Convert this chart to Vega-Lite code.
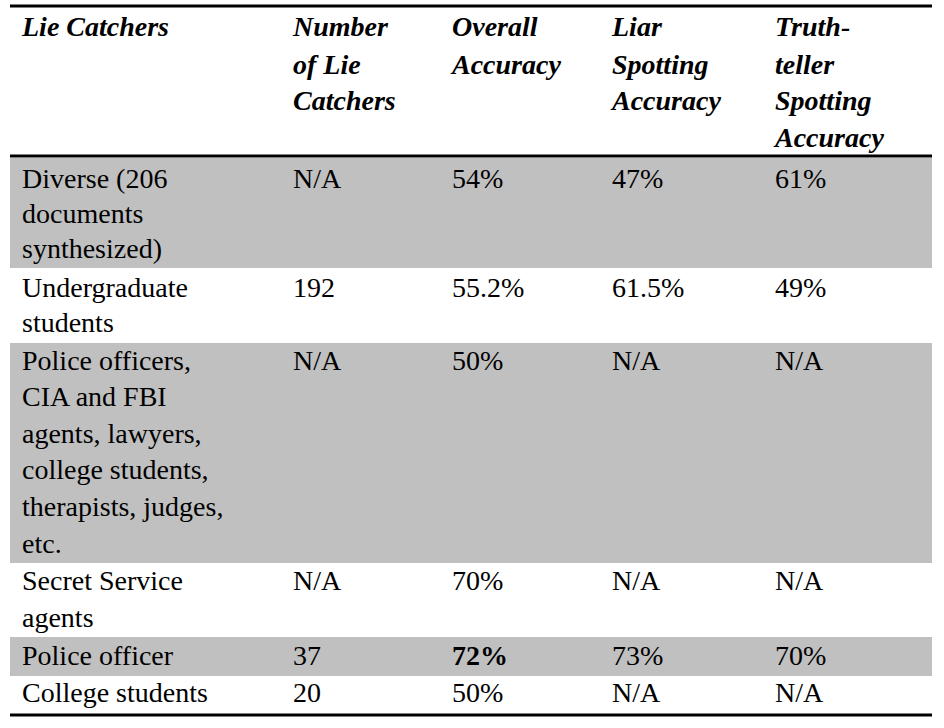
{
  "$schema": "https://vega.github.io/schema/vega-lite/v6.json",
  "autosize": {"type": "fit", "contains": "padding"},
  "width": 944,
  "height": 728,
  "padding": 0,
  "background": "white",
  "config": {"view": {"stroke": null}, "font": "Liberation Serif"},
  "datasets": {
    "bands": [
      {"x0": 10, "x1": 932, "top": 158, "bottom": 268},
      {"x0": 10, "x1": 932, "top": 343, "bottom": 563},
      {"x0": 10, "x1": 932, "top": 637, "bottom": 676}
    ],
    "rules": [
      {"x0": 10, "x1": 932, "y": 6},
      {"x0": 10, "x1": 932, "y": 156},
      {"x0": 10, "x1": 932, "y": 715}
    ],
    "cells": [
      {"kind": "head", "x": 22, "y": 28, "t": "Lie Catchers"},
      {"kind": "head", "x": 293, "y": 28, "t": "Number"},
      {"kind": "head", "x": 293, "y": 66, "t": "of Lie"},
      {"kind": "head", "x": 293, "y": 102, "t": "Catchers"},
      {"kind": "head", "x": 452, "y": 28, "t": "Overall"},
      {"kind": "head", "x": 452, "y": 66, "t": "Accuracy"},
      {"kind": "head", "x": 612, "y": 28, "t": "Liar"},
      {"kind": "head", "x": 612, "y": 66, "t": "Spotting"},
      {"kind": "head", "x": 612, "y": 102, "t": "Accuracy"},
      {"kind": "head", "x": 775, "y": 28, "t": "Truth-"},
      {"kind": "head", "x": 775, "y": 66, "t": "teller"},
      {"kind": "head", "x": 775, "y": 102, "t": "Spotting"},
      {"kind": "head", "x": 775, "y": 139, "t": "Accuracy"},

      {"kind": "body", "x": 22, "y": 180, "t": "Diverse (206"},
      {"kind": "body", "x": 22, "y": 215, "t": "documents"},
      {"kind": "body", "x": 22, "y": 250, "t": "synthesized)"},
      {"kind": "body", "x": 293, "y": 180, "t": "N/A"},
      {"kind": "body", "x": 452, "y": 180, "t": "54%"},
      {"kind": "body", "x": 612, "y": 180, "t": "47%"},
      {"kind": "body", "x": 775, "y": 180, "t": "61%"},

      {"kind": "body", "x": 22, "y": 289, "t": "Undergraduate"},
      {"kind": "body", "x": 22, "y": 324, "t": "students"},
      {"kind": "body", "x": 293, "y": 289, "t": "192"},
      {"kind": "body", "x": 452, "y": 289, "t": "55.2%"},
      {"kind": "body", "x": 612, "y": 289, "t": "61.5%"},
      {"kind": "body", "x": 775, "y": 289, "t": "49%"},

      {"kind": "body", "x": 22, "y": 362, "t": "Police officers,"},
      {"kind": "body", "x": 22, "y": 398, "t": "CIA and FBI"},
      {"kind": "body", "x": 22, "y": 435, "t": "agents, lawyers,"},
      {"kind": "body", "x": 22, "y": 471, "t": "college students,"},
      {"kind": "body", "x": 22, "y": 508, "t": "therapists, judges,"},
      {"kind": "body", "x": 22, "y": 545, "t": "etc."},
      {"kind": "body", "x": 293, "y": 362, "t": "N/A"},
      {"kind": "body", "x": 452, "y": 362, "t": "50%"},
      {"kind": "body", "x": 612, "y": 362, "t": "N/A"},
      {"kind": "body", "x": 775, "y": 362, "t": "N/A"},

      {"kind": "body", "x": 22, "y": 582, "t": "Secret Service"},
      {"kind": "body", "x": 22, "y": 619, "t": "agents"},
      {"kind": "body", "x": 293, "y": 582, "t": "N/A"},
      {"kind": "body", "x": 452, "y": 582, "t": "70%"},
      {"kind": "body", "x": 612, "y": 582, "t": "N/A"},
      {"kind": "body", "x": 775, "y": 582, "t": "N/A"},

      {"kind": "body", "x": 22, "y": 657, "t": "Police officer"},
      {"kind": "body", "x": 293, "y": 657, "t": "37"},
      {"kind": "bold", "x": 452, "y": 657, "t": "72%"},
      {"kind": "body", "x": 612, "y": 657, "t": "73%"},
      {"kind": "body", "x": 775, "y": 657, "t": "70%"},

      {"kind": "body", "x": 22, "y": 694, "t": "College students"},
      {"kind": "body", "x": 293, "y": 694, "t": "20"},
      {"kind": "body", "x": 452, "y": 694, "t": "50%"},
      {"kind": "body", "x": 612, "y": 694, "t": "N/A"},
      {"kind": "body", "x": 775, "y": 694, "t": "N/A"}
    ]
  },
  "layer": [
    {
      "data": {"name": "bands"},
      "mark": {"type": "rect", "color": "#c0c0c0"},
      "encoding": {
        "x": {"field": "x0", "type": "quantitative", "scale": {"domain": [0, 944], "nice": false, "zero": false}, "axis": null},
        "x2": {"field": "x1"},
        "y": {"field": "top", "type": "quantitative", "scale": {"domain": [728, 0], "nice": false, "zero": false}, "axis": null},
        "y2": {"field": "bottom"}
      }
    },
    {
      "data": {"name": "rules"},
      "mark": {"type": "rule", "color": "black", "strokeWidth": 3},
      "encoding": {
        "x": {"field": "x0", "type": "quantitative"},
        "x2": {"field": "x1"},
        "y": {"field": "y", "type": "quantitative"}
      }
    },
    {
      "data": {"name": "cells"},
      "transform": [{"filter": "datum.kind === 'head'"}],
      "mark": {"type": "text", "align": "left", "baseline": "middle", "fontSize": 28, "fontWeight": "bold", "fontStyle": "italic", "color": "black"},
      "encoding": {
        "x": {"field": "x", "type": "quantitative"},
        "y": {"field": "y", "type": "quantitative"},
        "text": {"field": "t"}
      }
    },
    {
      "data": {"name": "cells"},
      "transform": [{"filter": "datum.kind === 'body'"}],
      "mark": {"type": "text", "align": "left", "baseline": "middle", "fontSize": 28, "color": "black"},
      "encoding": {
        "x": {"field": "x", "type": "quantitative"},
        "y": {"field": "y", "type": "quantitative"},
        "text": {"field": "t"}
      }
    },
    {
      "data": {"name": "cells"},
      "transform": [{"filter": "datum.kind === 'bold'"}],
      "mark": {"type": "text", "align": "left", "baseline": "middle", "fontSize": 28, "fontWeight": "bold", "color": "black"},
      "encoding": {
        "x": {"field": "x", "type": "quantitative"},
        "y": {"field": "y", "type": "quantitative"},
        "text": {"field": "t"}
      }
    }
  ]
}
